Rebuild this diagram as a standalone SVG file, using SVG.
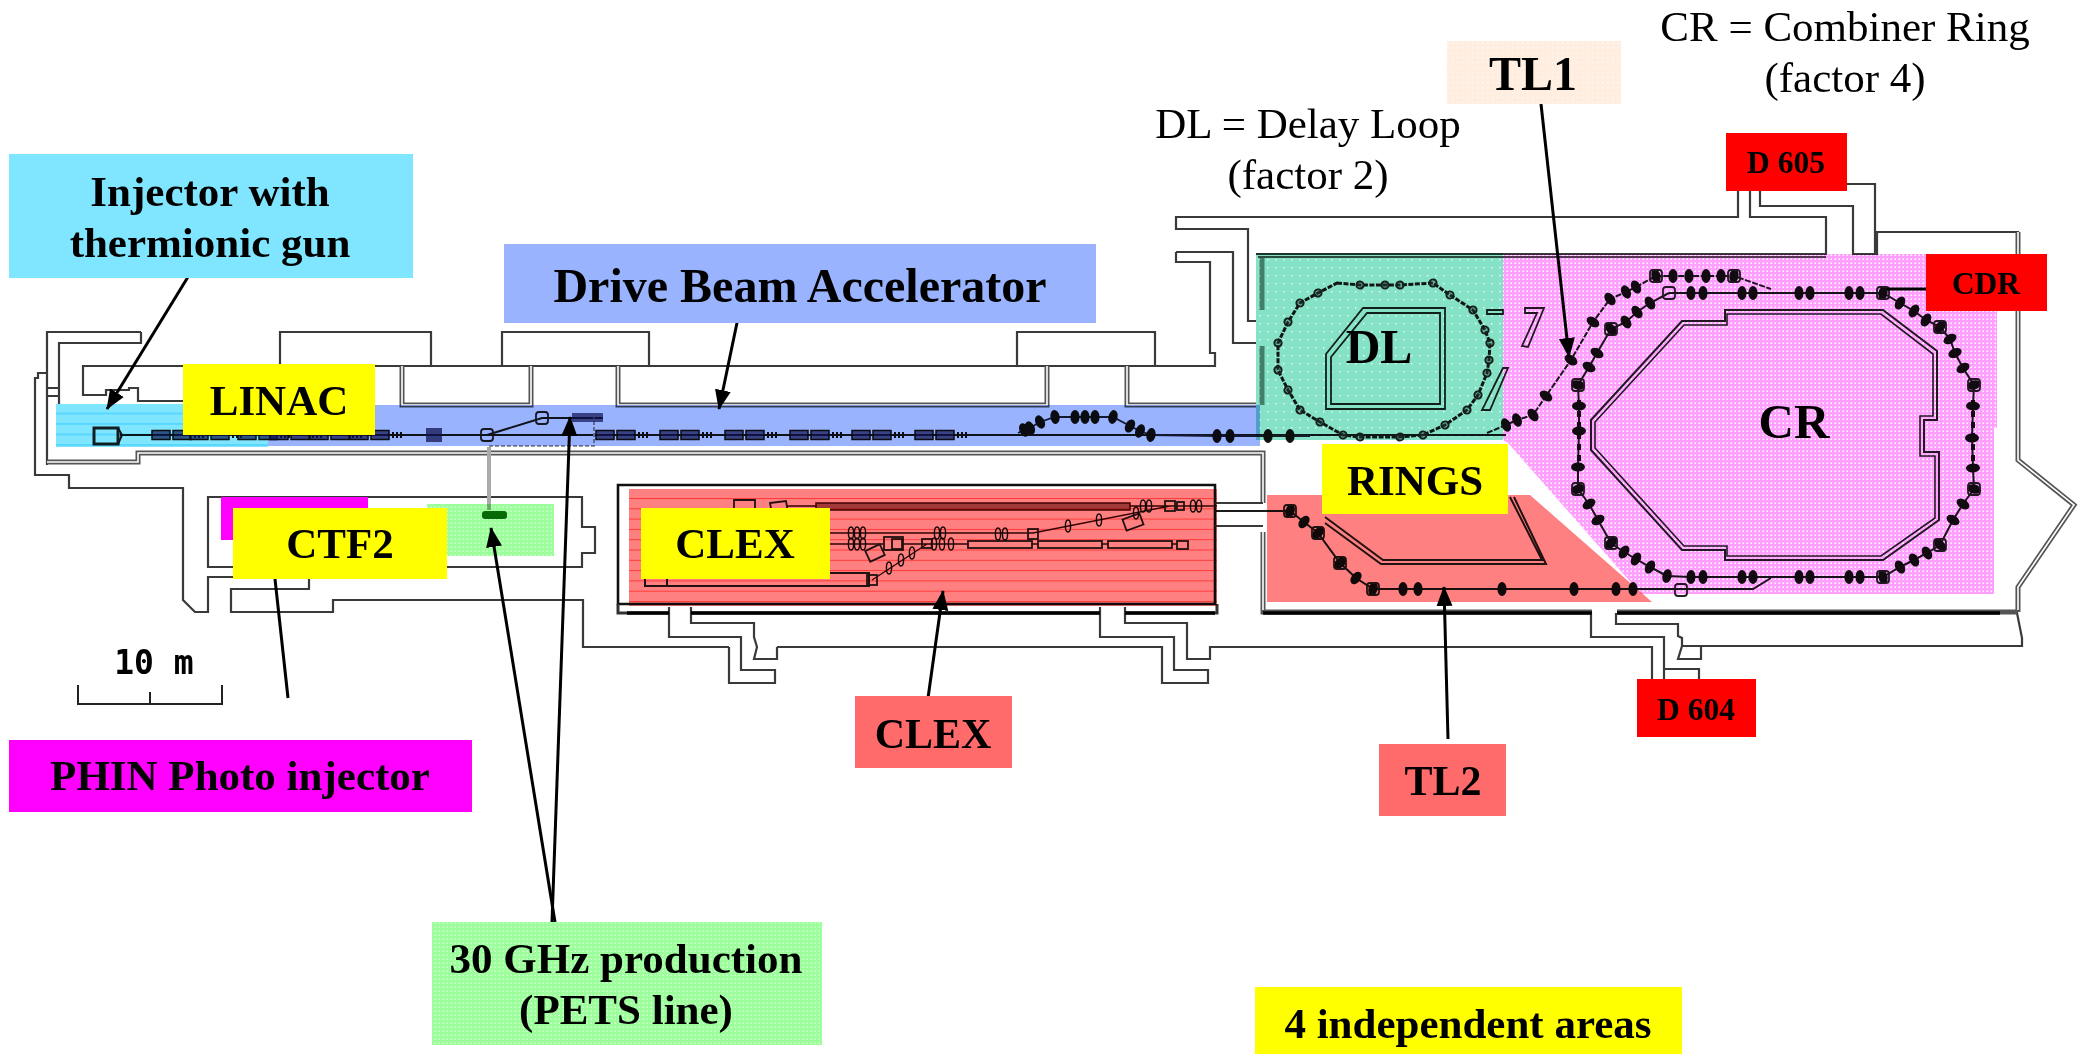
<svg xmlns="http://www.w3.org/2000/svg" xmlns:xlink="http://www.w3.org/1999/xlink" width="2083" height="1054" viewBox="0 0 2083 1054">
<style>
text{font-family:"Liberation Serif","Times New Roman",serif;text-anchor:middle;fill:#000}
.b{font-weight:bold}
.s43{font-size:43px}.s42{font-size:42px}.s48{font-size:48px}.s49{font-size:49px}.s31{font-size:31.5px}
.w{fill:none;stroke:#3a3a3a;stroke-width:2.2;stroke-linejoin:miter}
.w2{fill:none;stroke:#555;stroke-width:5}
.w2i{fill:none;stroke:#fff;stroke-width:1.6}
.bm{fill:none;stroke:#1a1a1a;stroke-width:2}
.bx{fill:none;stroke:#222;stroke-width:1.8}
.ov{mix-blend-mode:multiply}
.cn{fill:none;stroke:#000;stroke-width:3}
.ca{marker-end:url(#ah)}
</style>
<defs>
<marker id="ah" markerUnits="userSpaceOnUse" viewBox="0 0 20 20" refX="19" refY="10" markerWidth="20" markerHeight="20" orient="auto"><path d="M0 2L20 10L0 18z" fill="#000"/></marker>
<marker id="q" markerUnits="userSpaceOnUse" viewBox="-7 -9 14 18" refX="0" refY="0" markerWidth="14" markerHeight="18" orient="auto"><ellipse rx="4.6" ry="7" fill="#111"/></marker>
<marker id="c" markerUnits="userSpaceOnUse" viewBox="-6 -6 12 12" refX="0" refY="0" markerWidth="12" markerHeight="12" orient="auto"><circle r="3.6" fill="#555" fill-opacity=".35" stroke="#222" stroke-width="2"/></marker>
<g id="ac"><rect x="0" y="-4.5" width="18" height="9" fill="#1a1a50" fill-opacity=".7" stroke="#111" stroke-width="1.5"/><rect x="21" y="-4.5" width="18" height="9" fill="#1a1a50" fill-opacity=".7" stroke="#111" stroke-width="1.5"/><path d="M43 -3V3M47 -3V3M51 -3V3" stroke="#111" stroke-width="2" fill="none"/></g>
<g id="rb"><rect x="-6" y="-6" width="12" height="12" rx="3" fill="none" stroke="#222" stroke-width="1.8"/></g>
<g id="el"><ellipse rx="2.6" ry="6" fill="none" stroke="#111" stroke-width="1.4"/></g>
<pattern id="pPink" width="4" height="4" patternUnits="userSpaceOnUse"><rect width="4" height="4" fill="#ffa0ff"/><rect x="2.5" y="2.5" width="1.5" height="1.5" fill="#fff"/></pattern>
<pattern id="pTeal" width="8" height="8" patternUnits="userSpaceOnUse"><rect width="8" height="8" fill="#86e2c6"/><rect x="3" y="3" width="1.4" height="1.4" fill="#e8fff8"/></pattern>
<pattern id="pGreen" width="4" height="4" patternUnits="userSpaceOnUse"><rect width="4" height="4" fill="#9cff9c"/><rect x="2.5" y="2.5" width="1.5" height="1.5" fill="#d0ffd0"/></pattern>
<pattern id="pRed" width="10" height="10.3" patternUnits="userSpaceOnUse" y="498"><rect width="10" height="10.3" fill="#ff8080"/><rect y="0" width="10" height="1" fill="#ff3a3a"/></pattern>
<pattern id="pCyan" width="10" height="10.5" patternUnits="userSpaceOnUse" y="404"><rect width="10" height="10.5" fill="#80e5ff"/><rect y="9" width="10" height="1" fill="#33ccff"/></pattern>
<pattern id="pPeach" width="5" height="5" patternUnits="userSpaceOnUse"><rect width="5" height="5" fill="#ffeee0"/><rect x="2" y="2" width="1.5" height="1.5" fill="#fff8f2"/></pattern>
</defs>
<rect width="2083" height="1054" fill="#fff"/>
<g id="building">
<path class="w" d="M141 332H47V465M141 332V343H59V388H47M47 396H59V388M59 396V404"/>
<path class="w" d="M47 373H38V378H35V475H69V488H183V600L195 612H208V577H309V589H231V612H333V600H583V647H729M729 647V683H775V670H741V637H669V607"/>
<path class="w" d="M691 607V623H754V637L757 647L754 659H777V647M777 647H1162V683H1208V670H1174V637H1100V607M1125 607V623H1187V647V659H1210V647H1652V679M1682 646H2022V638L2017 613V587L2074 505L2018 460V232H1877V254H1853V206H1760V191M1846 184H1875V254M1750 191V217H1826V254H1256M1738 191V217H1176V229H1248V321H1256M1176 217V229M1176 252H1233V343H1256M1176 252V262H1210V353H1215V366H83V395H106V390H129V388H138V401H183"/>
<path class="w" d="M1664 679V669H1699V679M1591 613V637H1664V669M1616 613V624H1678V636L1682 638V646M1682 646L1678 659H1701V646"/>
<path class="w" d="M208 497H582V527H595V553H582V567H208ZM280 366V332H431V366M502 366V332H649V366M1017 366V332H1155V366"/>
<path class="w2" d="M402 366V405H531V366M618 366V405H1047V366M1127 366V405H1256"/>
<path class="w2i" d="M402 366V405H531V366M618 366V405H1047V366M1127 366V405H1256"/>
<path class="w2" d="M47 462H138V453H1263V503M1263 532V612H1592M1617 612H2017M2018 232V460L2074 505L2018 587V612"/>
<path class="w2i" d="M47 462H138V453H1263V503M1263 532V610M2018 232V460L2074 505L2018 587V610"/>
<path d="M618 485H1215V604H618Z" fill="none" stroke="#111" stroke-width="2.6"/>
<path d="M618 604V613H669M691 613H1100M1125 613H1217V604" fill="none" stroke="#333" stroke-width="3"/>
<path d="M627 613H669M691 613H1100M1125 613H1215M1263 613H1592M1617 613H2000" fill="none" stroke="#000" stroke-width="3.5"/>
<path class="w" d="M1215 503H1263M1215 511H1290M1215 526H1263"/>
<path d="M1262 258V310M1262 346V405" fill="none" stroke="#7d8f8a" stroke-width="5"/>
<path d="M1258 257H1826" fill="none" stroke="#555" stroke-width="1.8"/>
</g>
<g id="beamlines">
<path class="bm" d="M120 435H1506"/>
<rect class="bx" x="94" y="428" width="24" height="16" style="stroke-width:3"/>
<path class="bm" d="M118 428L122 435L118 444M487 435L542 418H603"/>
<path d="M489 447V510" stroke="#aaa" stroke-width="4" fill="none"/>
<path d="M489 446H594V417" stroke="#999" stroke-width="2" fill="none" stroke-dasharray="4 2"/>
<rect x="482" y="511" width="25" height="8" rx="3" fill="#0a6a0a"/>
<use xlink:href="#ac" x="152" y="435"/><use xlink:href="#ac" x="190" y="435"/><use xlink:href="#ac" x="238" y="435"/>
<use xlink:href="#ac" x="270" y="435"/><use xlink:href="#ac" x="310" y="435"/><use xlink:href="#ac" x="350" y="435"/>
<use xlink:href="#ac" x="596" y="435"/><use xlink:href="#ac" x="660" y="435"/><use xlink:href="#ac" x="725" y="435"/><use xlink:href="#ac" x="790" y="435"/><use xlink:href="#ac" x="852" y="435"/><use xlink:href="#ac" x="915" y="435"/>
<rect x="572" y="413" width="31" height="9" fill="#1a1a50" opacity=".7"/>
<rect x="426" y="428" width="16" height="14" fill="#1a1a50" opacity=".75"/>
<use xlink:href="#rb" x="487" y="435"/><use xlink:href="#rb" x="542" y="418"/>
<path d="M1018 433L1024 430L1030 428L1040 422L1055 417L1075 417L1085 417L1095 417L1113 417L1130 426L1140 431L1151 435L1217 436L1230 436L1268 436L1290 436L1310 436" fill="none" stroke="#223" stroke-width="1.8" marker-mid="url(#q)"/>
<path class="bm" style="stroke-width:3" d="M1337 283L1360 285L1385 285L1400 285L1433 283L1450 295L1473 310L1485 330L1490 343L1489 360L1487 373L1478 395L1467 410L1445 425L1423 435L1400 437L1360 437L1343 435L1320 422L1300 410L1288 390L1278 370L1278 343L1288 322L1300 303L1318 293Z" marker-mid="url(#c)" stroke-dasharray="5 1.5"/>
<path class="bx" style="stroke-width:1.8" d="M1363 308H1445V409H1326V354ZM1367 313H1440V404H1331V357Z"/>
<path class="bx" d="M1487 310H1503V314H1487ZM1525 308H1544L1528 347L1522 346L1537 313H1525ZM1508 368L1490 410H1482L1503 368Z"/>
<path class="bm" stroke-dasharray="6 1.5" d="M1487 433L1506 425L1517 420L1533 415L1546 396L1571 360L1593 322L1610 299L1626 292L1636 287L1656 276L1673 276L1689 276L1706 276L1721 276L1734 276L1771 289" marker-mid="url(#q)"/>
<path class="bm" d="M1669 293L1691 293L1703 293L1742 293L1753 293L1799 293L1810 293L1849 293L1860 293L1883 293L1900 303L1914 311L1926 320L1940 327L1950 339L1955 353L1963 368L1974 385L1973 406L1972 438L1973 468L1974 489L1963 504L1953 520L1940 545L1927 553L1914 560L1900 567L1883 577L1860 577L1849 577L1810 577L1799 577L1753 577L1742 577L1703 577L1691 577L1667 576L1650 567L1636 559L1624 552L1611 543L1598 520L1589 504L1578 489L1578 467L1579 431L1579 406L1578 385L1589 367L1597 353L1611 329L1626 322L1637 312L1650 303L1669 293" marker-mid="url(#q)"/>
<path d="M1579 400V470M1973 400V470" stroke="#111" stroke-width="4" stroke-dasharray="6 5" fill="none"/>
<use xlink:href="#rb" x="1656" y="276"/><use xlink:href="#rb" x="1734" y="276"/><use xlink:href="#rb" x="1669" y="293"/><use xlink:href="#rb" x="1883" y="293"/><use xlink:href="#rb" x="1940" y="327"/><use xlink:href="#rb" x="1974" y="385"/><use xlink:href="#rb" x="1974" y="489"/><use xlink:href="#rb" x="1940" y="545"/><use xlink:href="#rb" x="1883" y="577"/><use xlink:href="#rb" x="1611" y="543"/><use xlink:href="#rb" x="1578" y="489"/><use xlink:href="#rb" x="1578" y="385"/><use xlink:href="#rb" x="1611" y="329"/><use xlink:href="#rb" x="1681" y="590"/>
<path class="bx" style="stroke-width:2" d="M1725 310H1883L1937 351V420H1924V452H1939V520L1883 560H1725V550H1682L1591 450V420L1682 321H1725Z"/>
<path class="bx" style="stroke-width:1.6" d="M1727 314H1881L1933 354V416H1920V456H1935V518L1881 556H1727V546H1684L1595 448V422L1684 325H1727Z"/>
<path class="bm" d="M1632 589H1753L1771 578"/>
<path class="bm" d="M1215 511H1290L1304 522L1318 533L1340 563L1356 578L1373 589L1403 589L1418 589L1502 589L1574 589L1616 589L1633 589H1640" marker-mid="url(#q)"/>
<use xlink:href="#rb" x="1290" y="511"/><use xlink:href="#rb" x="1318" y="533"/><use xlink:href="#rb" x="1340" y="563"/><use xlink:href="#rb" x="1373" y="589"/>
<path class="bx" style="stroke-width:2" d="M1325 517L1383 560H1542L1510 497M1325 523L1381 564H1546L1514 497"/>
<g>
<rect x="816" y="503" width="314" height="7" fill="#500" fill-opacity=".55" stroke="#400" stroke-width="1.5"/>
<path class="bx" d="M734 500H755V510H734ZM770 503L786 501L788 512L772 514Z"/>
<path class="bm" d="M787 506H816M1130 506H1217M830 533H1033L1170 506M830 544H884M903 544H927M927 544L872 580M927 544H968M1032 544H1038M1102 544H1108M1172 544H1177" style="stroke-width:1.4;stroke:#300"/>
<rect class="bx" x="1028" y="529" width="10" height="10"/><rect class="bx" x="1165" y="501" width="10" height="10"/><rect class="bx" x="1177" y="502" width="7" height="8"/>
<rect class="bx" x="922" y="539" width="10" height="9"/><rect class="bx" x="867" y="575" width="10" height="10"/>
<rect class="bx" x="884" y="537" width="19" height="13"/><rect class="bx" x="892" y="539" width="10" height="10"/>
<rect class="bx" x="968" y="541" width="64" height="7"/><rect class="bx" x="1038" y="541" width="64" height="7"/><rect class="bx" x="1108" y="541" width="64" height="7"/><rect class="bx" x="1177" y="541" width="11" height="8"/>
<path class="bx" d="M667 573H869V586H667ZM667 577H645V586H667" style="stroke-width:2"/>
<rect class="bx" x="867" y="547" width="16" height="12" transform="rotate(-25 875 553)"/>
<rect class="bx" x="1124" y="516" width="18" height="12" transform="rotate(-20 1133 522)"/>
<use xlink:href="#el" x="851" y="533"/><use xlink:href="#el" x="857" y="533"/><use xlink:href="#el" x="863" y="533"/>
<use xlink:href="#el" x="851" y="544"/><use xlink:href="#el" x="857" y="544"/><use xlink:href="#el" x="863" y="544"/>
<use xlink:href="#el" x="937" y="533"/><use xlink:href="#el" x="943" y="533"/><use xlink:href="#el" x="998" y="534"/><use xlink:href="#el" x="1005" y="534"/>
<use xlink:href="#el" x="934" y="544"/><use xlink:href="#el" x="942" y="544"/><use xlink:href="#el" x="951" y="544"/>
<use xlink:href="#el" x="1068" y="526"/><use xlink:href="#el" x="1099" y="520"/><use xlink:href="#el" x="1136" y="513"/>
<use xlink:href="#el" x="889" y="568"/><use xlink:href="#el" x="901" y="560"/><use xlink:href="#el" x="912" y="553"/>
<use xlink:href="#el" x="1143" y="506"/><use xlink:href="#el" x="1149" y="506"/><use xlink:href="#el" x="1193" y="506"/><use xlink:href="#el" x="1199" y="506"/>
</g>
</g>
<g id="areas">
<rect class="ov" x="268" y="405" width="992" height="41" fill="#99b3ff"/>
<rect class="ov" x="56" y="404" width="212" height="43" fill="url(#pCyan)"/>
<rect class="ov" x="427" y="504" width="127" height="52" fill="url(#pGreen)"/>
<rect x="221" y="497" width="147" height="43" fill="#ff00ff"/>
<rect class="ov" x="629" y="489" width="588" height="117" fill="url(#pRed)"/>
<path class="ov" d="M1503 254H1997V428H1994V594H1641L1508 443L1503 440Z" fill="url(#pPink)"/>
<path class="ov" d="M1267 495H1530L1652 602H1267Z" fill="#ff8080"/>
<rect class="ov" x="1256" y="253" width="247" height="187" fill="url(#pTeal)"/>
</g>
<g id="connectors">
<path class="cn ca" d="M191 272L107 409"/>
<path class="cn ca" d="M738 318L719 409"/>
<path class="cn" d="M275 579L288 698"/>
<path class="cn ca" d="M555 922L491 528"/>
<path class="cn ca" d="M552 922L570 417"/>
<path class="cn ca" d="M928 698L943 591"/>
<path class="cn ca" d="M1448 739L1444 587"/>
<path class="cn ca" d="M1541 104L1569 357"/>
<path class="cn" d="M1887 289H1927"/>
</g>
<g id="scale">
<path d="M78 685V704H222V685M150 692V704" fill="none" stroke="#222" stroke-width="2"/>
<text x="154" y="674" style="font-family:'DejaVu Sans Mono',monospace;font-weight:bold;font-size:33px">10 m</text>
</g>
<g id="injector"><rect x="9" y="154" width="404" height="124" fill="#80e5ff"/><text class="b s43" x="210" y="206">Injector with</text><text class="b s43" x="210" y="257">thermionic gun</text></g>
<g id="drive-beam"><rect x="504" y="244" width="592" height="79" fill="#99b3ff"/><text class="b s48" x="800" y="302">Drive Beam Accelerator</text></g>
<g id="linac"><rect x="183" y="364" width="192" height="71" fill="#ff0"/><text class="b s43" x="279" y="415">LINAC</text></g>
<g id="ctf2"><rect x="233" y="508" width="214" height="71" fill="#ff0"/><text class="b s43" x="340" y="558">CTF2</text></g>
<g id="clex-area"><rect x="641" y="508" width="189" height="71" fill="#ff0"/><text class="b s43" x="735" y="558">CLEX</text></g>
<g id="rings"><rect x="1322" y="444" width="186" height="70" fill="#ff0"/><text class="b s43" x="1415" y="495">RINGS</text></g>
<g id="dl"><text class="b s48" x="1379" y="363">DL</text></g>
<g id="cr"><text class="b s49" x="1794" y="438">CR</text></g>
<g id="dl-note"><text class="s43" x="1308" y="138">DL = Delay Loop</text><text class="s43" x="1308" y="189">(factor 2)</text></g>
<g id="cr-note"><text class="s43" x="1845" y="41">CR = Combiner Ring</text><text class="s43" x="1845" y="92">(factor 4)</text></g>
<g id="tl1"><rect x="1447" y="41" width="174" height="63" fill="url(#pPeach)"/><text class="b s48" x="1533" y="90">TL1</text></g>
<g id="d605"><rect x="1726" y="133" width="121" height="58" fill="#f00"/><text class="b s31" x="1786" y="173">D 605</text></g>
<g id="cdr"><rect x="1926" y="254" width="121" height="57" fill="#f00"/><text class="b s31" x="1986" y="294">CDR</text></g>
<g id="d604"><rect x="1637" y="679" width="119" height="58" fill="#f00"/><text class="b s31" x="1696" y="720">D 604</text></g>
<g id="clex"><rect x="855" y="696" width="157" height="72" fill="#ff6a6a"/><text class="b s42" x="933" y="748">CLEX</text></g>
<g id="tl2"><rect x="1379" y="744" width="127" height="72" fill="#ff6a6a"/><text class="b s42" x="1443" y="795">TL2</text></g>
<g id="phin"><rect x="9" y="740" width="463" height="72" fill="#ff00ff"/><text class="b s43" x="240" y="790">PHIN Photo injector</text></g>
<g id="ghz"><rect x="432" y="922" width="390" height="123" fill="url(#pGreen)"/><text class="b s43" x="626" y="973">30 GHz production</text><text class="b s43" x="626" y="1024">(PETS line)</text></g>
<g id="independent"><rect x="1255" y="987" width="427" height="67" fill="#ff0"/><text class="b s43" x="1468" y="1038">4 independent areas</text></g>
</svg>
